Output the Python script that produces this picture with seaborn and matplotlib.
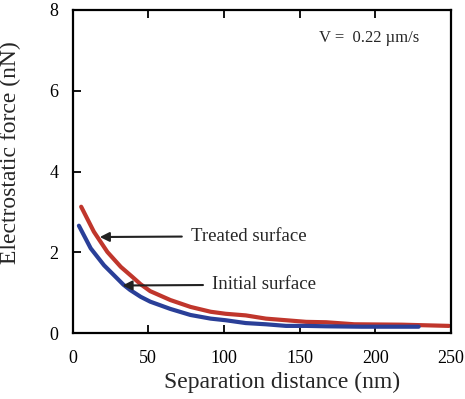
import matplotlib
matplotlib.use("Agg")
import matplotlib.pyplot as plt
import seaborn as sns
import pandas as pd

# Data
treated_x = [5.7, 14.1, 23.0, 31.9, 39.6, 45.0, 51.3, 64.6, 77.9, 91.2, 101.1, 114.4,
             127.7, 141.0, 154.3, 167.5, 186.1, 217.4, 248.6]
treated_y = [3.13, 2.51, 2.01, 1.64, 1.39, 1.21, 1.04, 0.82, 0.65, 0.53, 0.48, 0.44,
             0.36, 0.32, 0.28, 0.27, 0.22, 0.21, 0.18]
initial_x = [4.2, 12.0, 20.8, 29.6, 33.6, 38.0, 45.0, 51.3, 64.6, 77.9, 91.2, 101.1, 114.4,
             127.7, 141.0, 154.3, 167.5, 190.8, 228.6]
initial_y = [2.66, 2.10, 1.68, 1.35, 1.20, 1.07, 0.90, 0.78, 0.60, 0.45, 0.36, 0.32, 0.25,
             0.22, 0.18, 0.18, 0.17, 0.16, 0.16]
x_ticks = [0, 50, 100, 150, 200, 250]
y_ticks = [0, 2, 4, 6, 8]
labels = ["Treated surface", "Initial surface"]

df = pd.concat([
    pd.DataFrame({"x": treated_x, "y": treated_y, "s": labels[0]}),
    pd.DataFrame({"x": initial_x, "y": initial_y, "s": labels[1]}),
])

sns.set_style("white")
plt.rcParams['font.family'] = ['Liberation Serif', 'DejaVu Serif']

fig = plt.figure(figsize=(4.65, 3.99), dpi=100)
ax = fig.add_axes([0.156, 0.165, 0.814, 0.81])

sns.lineplot(data=df, x="x", y="y", hue="s", ax=ax,
             palette={labels[0]: "#c0362c", labels[1]: "#2a3f98"},
             linewidth=3.0, legend=False, sort=False)

ax.set_xlim(0, 250)
ax.set_ylim(0, 8)
ax.set_xticks(x_ticks)
ax.set_yticks(y_ticks)
ax.set_xlabel("Separation distance (nm)", fontsize=17)
ax.set_ylabel("Electrostatic force (nN)", fontsize=17)
ax.xaxis.set_label_coords(0.554, -0.12)
ax.yaxis.set_label_coords(-0.135, 0.56)
ax.tick_params(axis='both', direction='in', length=6, width=1.3,
               labelsize=13, pad=10, colors='black')
ax.tick_params(axis='x', top=True, bottom=True, pad=12)
ax.tick_params(axis='y', left=True, right=False)
for sp in ax.spines.values():
    sp.set_linewidth(1.6)
    sp.set_color('black')

ax.annotate("Treated surface", xy=(18, 2.38), xytext=(78, 2.4),
            fontsize=13.5, va='center', ha='left',
            arrowprops=dict(arrowstyle='-|>', color='#222222', lw=1.5,
                            shrinkA=4, shrinkB=0, mutation_scale=14))
ax.annotate("Initial surface", xy=(33, 1.18), xytext=(92, 1.2),
            fontsize=13.5, va='center', ha='left',
            arrowprops=dict(arrowstyle='-|>', color='#222222', lw=1.5,
                            shrinkA=4, shrinkB=0, mutation_scale=14))
ax.text(163, 7.3, "V =  0.22 \u00b5m/s", fontsize=12, ha='left', va='center')

fig.savefig("out.png", dpi=100)
